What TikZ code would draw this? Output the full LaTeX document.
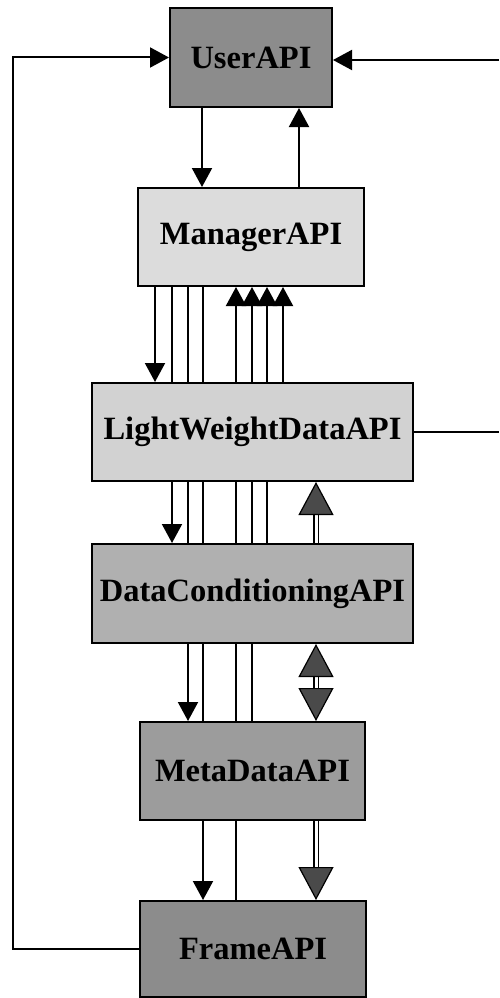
\documentclass[tikz,border=0pt]{standalone}
\usepackage{fontspec}
\setmainfont{Liberation Serif}
\usetikzlibrary{arrows.meta,backgrounds}
\definecolor{cdark}{HTML}{8C8C8C}
\definecolor{clight}{HTML}{DCDCDC}
\definecolor{clw}{HTML}{D2D2D2}
\definecolor{cdc}{HTML}{B0B0B0}
\definecolor{cmd}{HTML}{9C9C9C}
\definecolor{chead}{HTML}{4A4A4A}
\tikzset{bighead/.tip={Triangle[width=35pt,length=33pt,fill=chead,line width=1.2pt]}}
\begin{document}
\begin{tikzpicture}[x=1pt,y=-1pt,
  apibox/.style={draw=black, line width=2pt, inner sep=0pt, font=\fontsize{32.5}{36}\selectfont\bfseries},
  conn/.style={line width=2pt},
  arr/.style={conn, -{Triangle[width=20pt,length=19pt]}},
  bigline/.style={line width=1.5pt, double=white, double distance=3pt},
  bigarr/.style={bigline, -bighead},
  bigboth/.style={bigline, bighead-bighead}]
\useasboundingbox (0,0) rectangle (499,998);
% boxes
\node[apibox, fill=cdark, minimum width=162pt, minimum height=99pt] (user) at (251,57.5) {UserAPI};
\node[apibox, fill=clight, minimum width=226pt, minimum height=98pt] (mgr) at (251,237) {ManagerAPI};
\node[apibox, fill=clw, minimum width=321pt, minimum height=98pt] (lw) at (252.5,432) {LightWeightDataAPI};
\node[apibox, fill=cdc, minimum width=321pt, minimum height=99pt] (dc) at (252.5,593.5) {DataConditioningAPI};
\node[apibox, fill=cmd, minimum width=225pt, minimum height=98pt] (md) at (252.5,771) {MetaDataAPI};
\node[apibox, fill=cdark, minimum width=226pt, minimum height=96pt] (frame) at (253,949) {FrameAPI};
% column coordinates
\coordinate (cU) at (202,0);
\coordinate (cV) at (299,0);
\coordinate (cA) at (155,0);
\coordinate (cB) at (172,0);
\coordinate (cC) at (188,0);
\coordinate (cD) at (203,0);
\coordinate (cE) at (236,0);
\coordinate (cF) at (252,0);
\coordinate (cG) at (267,0);
\coordinate (cH) at (283,0);
\coordinate (cI) at (316,0);
\coordinate (lft) at (13,0);
\coordinate (rtop) at (499,60);
\coordinate (rmid) at (499,432);
\begin{pgfonlayer}{background}
\fill[white] (0,0) rectangle (499,998);
% UserAPI <-> ManagerAPI
\draw[arr] (user.south -| cU) -- (mgr.north -| cU);
\draw[arr] (mgr.north -| cV) -- (user.south -| cV);
% ManagerAPI down to lower APIs
\draw[arr] (mgr.south -| cA) -- (lw.north -| cA);
\draw[arr] (mgr.south -| cB) -- (dc.north -| cB);
\draw[arr] (mgr.south -| cC) -- (md.north -| cC);
\draw[arr] (mgr.south -| cD) -- (frame.north -| cD);
% lower APIs up to ManagerAPI
\draw[arr] (frame.north -| cE) -- (mgr.south -| cE);
\draw[arr] (md.north -| cF) -- (mgr.south -| cF);
\draw[arr] (dc.north -| cG) -- (mgr.south -| cG);
\draw[arr] (lw.north -| cH) -- (mgr.south -| cH);
% data flow
\draw[bigarr] (dc.north -| cI) -- (lw.south -| cI);
\draw[bigboth] (dc.south -| cI) -- (md.north -| cI);
\draw[bigarr] (md.south -| cI) -- (frame.north -| cI);
% outer connections
\draw[arr] (frame.west) -- (frame.west -| lft) |- (user.west);
\draw[arr] (rtop) -- (rtop -| user.east);
\draw[conn] (lw.east) -- (rmid);
\end{pgfonlayer}
\end{tikzpicture}
\end{document}
